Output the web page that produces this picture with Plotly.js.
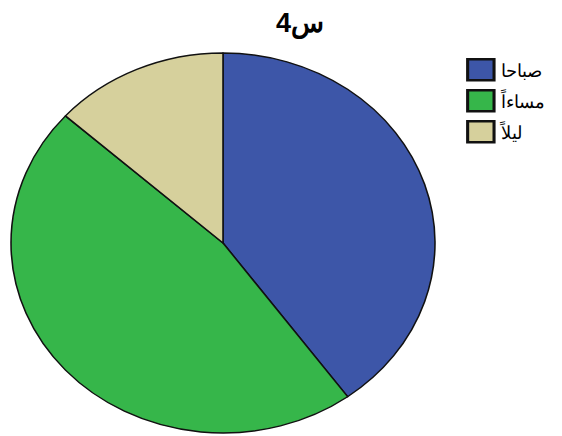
<!DOCTYPE html>
<html>
<head>
<meta charset="utf-8">
<script src="https://cdn.plot.ly/plotly-3.0.1.min.js"></script>
<style>html,body{margin:0;padding:0;background:#fff;}#chart{width:562px;height:436px;}</style>
</head>
<body>
<div id="chart"></div>
<script>
var categories = ["صباحا", "مساءاً", "ليلاً"];
var counts = [12, 14, 4];
var colors = ["#3d56a8", "#36b64a", "#d6d09c"];
var chartTitle = "س4";

var W = 562, H = 436, cx = 223, cy = 243, ry = 190, rx = 212;
var data = [{
  type: "pie",
  labels: categories,
  values: counts,
  sort: false,
  direction: "clockwise",
  rotation: 0,
  textinfo: "none",
  hoverinfo: "label+value+percent",
  marker: {colors: colors, line: {color: "#111", width: 1.4}},
  domain: {x: [(cx - ry) / W, (cx + ry) / W], y: [(H - cy - ry) / H, (H - cy + ry) / H]}
}];
var layout = {
  width: W, height: H,
  margin: {l: 0, r: 0, t: 0, b: 0},
  paper_bgcolor: "#fff",
  title: {text: "<b>" + chartTitle + "</b>", x: 0.534, xanchor: "center", y: 0.948, yanchor: "middle",
          font: {family: "Liberation Sans, Arial, sans-serif", size: 27, color: "#000"}},
  showlegend: true,
  legend: {x: 0.82, y: 0.87, xanchor: "left", yanchor: "top",
           bgcolor: "rgba(0,0,0,0)",
           font: {family: "Liberation Sans, Arial, sans-serif", size: 18, color: "#000"},
           tracegroupgap: 0, traceorder: "normal"}
};
Plotly.newPlot("chart", data, layout, {displayModeBar: false, staticPlot: true}).then(function (gd) {
  // stretch the pie horizontally into the reference's ellipse
  var pl = gd.querySelector(".pielayer");
  if (pl) pl.setAttribute("transform", "translate(" + cx + ",0) scale(" + (rx / ry) + ",1) translate(" + (-cx) + ",0)");
  // larger legend swatches and wider spacing, as in the reference
  var lg = gd.querySelector(".legend");
  if (lg) {
    lg.querySelectorAll("[clip-path]").forEach(function (n) { n.removeAttribute("clip-path"); });
    var items = lg.querySelectorAll(".traces");
    items.forEach(function (t, i) {
      t.setAttribute("transform", "translate(0," + (13 + i * 31) + ")");
      var p = t.querySelector(".legendpoints path");
      if (p) p.setAttribute("transform", "translate(20,0) scale(2.2,1.75)");
    });
  }
});
</script>
</body>
</html>
